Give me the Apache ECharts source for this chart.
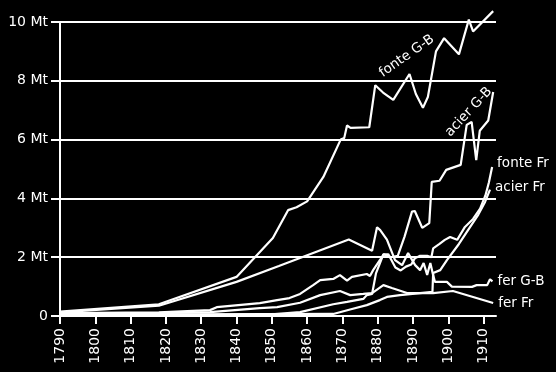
<!DOCTYPE html>
<html>
<head>
<meta charset="utf-8">
<script src="https://cdn.jsdelivr.net/npm/echarts@6/dist/echarts.min.js"></script>
<style>
html,body{margin:0;padding:0;background:#000;}
#c{width:556px;height:372px;}
</style>
</head>
<body>
<div id="c"></div>
<script>
// Tick labels
var xTicks = [1790,1800,1810,1820,1830,1840,1850,1860,1870,1880,1890,1900,1910];
var yTicks = [0,2,4,6,8,10];
var seriesNames = ['fonte G-B','acier G-B','fonte Fr','acier Fr','fer G-B','fer Fr'];

// [year, million tonnes]
var fonteGB = [[1790,0.15],[1818,0.4],[1840,1.33],[1850.3,2.65],[1854.6,3.6],[1857,3.7],[1860,3.9],[1864.6,4.73],[1869.5,6.0],[1870.5,6.05],[1871.3,6.48],[1872.3,6.4],[1877.6,6.42],[1879.3,7.85],[1881.5,7.6],[1884.4,7.35],[1889,8.23],[1890.8,7.55],[1892.8,7.08],[1894.2,7.45],[1896.5,9.0],[1898.8,9.45],[1903,8.9],[1905.8,10.08],[1907,9.68],[1912.7,10.37]];
var acierGB = [[1790,0.04],[1850,0.06],[1858,0.13],[1867.4,0.4],[1871.3,0.48],[1875.9,0.58],[1876.9,0.71],[1878.4,0.75],[1879.5,1.45],[1881.6,2.1],[1883.8,2.0],[1885.7,2.05],[1887.6,2.7],[1889.7,3.55],[1890.5,3.57],[1892.6,3.0],[1894.6,3.16],[1895.3,4.56],[1897.5,4.6],[1899.4,4.97],[1903.5,5.14],[1905.2,6.5],[1906.6,6.6],[1907.9,5.3],[1908.9,6.3],[1911.3,6.65],[1912.7,7.62]];
var fonteFr = [[1790,0.1],[1818,0.12],[1832.5,0.2],[1834.4,0.3],[1846.6,0.44],[1851.5,0.54],[1855,0.61],[1858,0.75],[1861.7,1.05],[1863.7,1.22],[1867.4,1.26],[1869.3,1.39],[1871.3,1.2],[1872.7,1.33],[1876.9,1.43],[1877.8,1.36],[1878.7,1.56],[1880.6,1.9],[1881.8,2.1],[1883,2.1],[1885,1.65],[1886.5,1.55],[1888,1.68],[1889.5,1.75],[1890.5,1.96],[1892,2.05],[1894,2.05],[1895.2,2.0],[1895.7,2.3],[1897.5,2.45],[1899,2.59],[1900.5,2.69],[1902.5,2.59],[1904.7,3.03],[1907,3.3],[1909,3.65],[1910.5,4.1],[1911.5,4.55],[1912.4,5.07]];
var acierFr = [[1790,0.04],[1867.4,0.07],[1872.7,0.24],[1876.9,0.37],[1880.6,0.54],[1882.6,0.65],[1886.3,0.71],[1895.5,0.82],[1895.7,1.46],[1897.7,1.56],[1899.6,1.9],[1903,2.45],[1906,3.0],[1908.5,3.45],[1910.4,3.88],[1911.8,4.3]];
var ferGB = [[1790,0.12],[1818,0.35],[1840,1.16],[1852,1.7],[1871.8,2.6],[1878.4,2.22],[1879.8,3.02],[1880.7,2.92],[1882.6,2.6],[1884.9,1.9],[1886.9,1.73],[1888.6,2.14],[1890.6,1.73],[1892,1.56],[1893,1.8],[1894,1.4],[1894.9,1.8],[1895.7,1.39],[1896.2,1.16],[1899.6,1.16],[1901,1.0],[1906.7,0.99],[1908,1.05],[1911,1.05],[1911.8,1.25],[1912.5,1.18]];
var ferFr = [[1790,0.08],[1818,0.1],[1832.5,0.13],[1846.6,0.27],[1851.5,0.3],[1858,0.45],[1863.7,0.71],[1869.3,0.85],[1872.2,0.71],[1875.9,0.75],[1878.4,0.78],[1881.6,1.05],[1884,0.95],[1888.3,0.78],[1895.7,0.78],[1901.3,0.85],[1912.7,0.44]];

var FONT = 'DejaVu Sans';
var W = '#ffffff';

function lineSeries(name, data, extra) {
  var s = {
    name: name, type: 'line', data: data, showSymbol: false, symbol: 'none',
    lineStyle: {color: W, width: 2.2}, itemStyle: {color: W},
    z: 3, animation: false, silent: true, clip: false
  };
  for (var k in extra) s[k] = extra[k];
  return s;
}
function endLab(offset) {
  return {show: true, formatter: '{a}', color: W, fontFamily: FONT, fontSize: 13.5, distance: 5, offset: offset || [0,0]};
}

var chart = echarts.init(document.getElementById('c'), null, {renderer: 'canvas'});
chart.setOption({
  backgroundColor: '#000',
  animation: false,
  grid: {left: 60, top: 22, width: 436, height: 294, containLabel: false},
  xAxis: {
    type: 'value', min: 1790, max: 1913.5,
    axisLine: {show: true, lineStyle: {color: W, width: 2}},
    axisTick: {show: true, length: 8, lineStyle: {color: W, width: 2}, customValues: xTicks},
    axisLabel: {show: true, rotate: 90, margin: 12, color: W, fontFamily: FONT, fontSize: 14, customValues: xTicks,
      formatter: function (v) { return String(Math.round(v)); }},
    splitLine: {show: false}
  },
  yAxis: {
    type: 'value', min: 0, max: 10, interval: 2,
    axisLine: {show: true, lineStyle: {color: W, width: 2}},
    axisTick: {show: true, length: 9, lineStyle: {color: W, width: 2}},
    axisLabel: {show: true, margin: 12, color: W, fontFamily: FONT, fontSize: 14,
      formatter: function (v) { return v === 0 ? '0' : v + ' Mt'; }},
    splitLine: {show: true, lineStyle: {color: W, width: 2}}
  },
  series: [
    lineSeries(seriesNames[0], fonteGB, {}),
    lineSeries(seriesNames[1], acierGB, {}),
    lineSeries(seriesNames[2], fonteFr, {endLabel: endLab([0,-3])}),
    lineSeries(seriesNames[3], acierFr, {endLabel: endLab([0,-2])}),
    lineSeries(seriesNames[4], ferGB, {endLabel: endLab([0,0])}),
    lineSeries(seriesNames[5], ferFr, {endLabel: endLab([0,0])})
  ]
});

// Rotated in-plot labels placed through the chart's own coordinate conversion
var rotLabels = [
  {text: seriesNames[0], at: [1888.2, 8.84], rot: 35},
  {text: seriesNames[1], at: [1905.8, 6.94], rot: 47}
];
var elements = rotLabels.map(function (l) {
  var p = chart.convertToPixel({gridIndex: 0}, l.at);
  return {
    type: 'text', x: p[0], y: p[1], rotation: l.rot * Math.PI / 180, z: 10,
    style: {text: l.text, fill: W, font: '13.5px "DejaVu Sans"', align: 'center', verticalAlign: 'middle'}
  };
});
chart.setOption({graphic: {elements: elements}});
</script>
</body>
</html>
